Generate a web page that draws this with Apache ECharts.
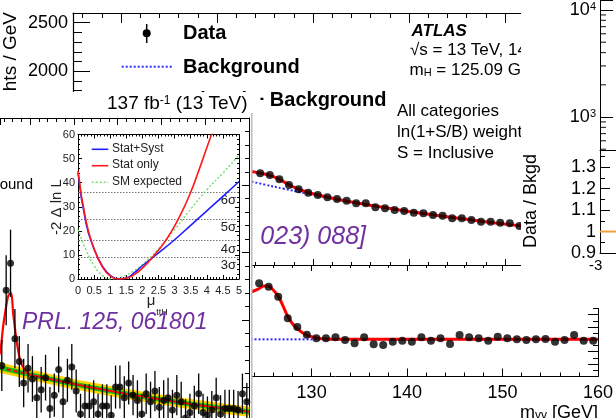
<!DOCTYPE html>
<html>
<head>
<meta charset="utf-8">
<script src="https://cdn.jsdelivr.net/npm/echarts@6.0.0/dist/echarts.min.js"></script>
<style>
html,body{margin:0;padding:0;background:#fff;}
#chart{width:616px;height:418px;}
</style>
</head>
<body>
<div id="chart"></div>
<script>
// ================= DATA =================
// ATLAS diphoton, ln(1+S/B) weighted, all categories
const atlasMass = [124.5,125.5,126.5,127.5,128.5,129.5,130.5,131.5,132.5,133.5,134.5,135.5,136.5,137.5,138.5,139.5,140.5,141.5,142.5,143.5,144.5,145.5,146.5,147.5,148.5,149.5,150.5,151.5];
const atlasWeighted = [946,929,884,826,781,746,722,699,681,664,637,637,595,585,568,557,540,534,516,509,482,482,464,447,447,437,430,402];
const atlasBkgMass = [123.6,125,127,129,131,134,137,140,143,146,149,152,155,158,160];
const atlasBkg = [861,829,786,744,705,651,600,553,510,471,434,400,369,340,322];
const atlasFitMass = [123.6,124.5,125.5,126.5,127.5,128.5,129.5,130.5,131.5,134,137,140,143,146,149,152,155,158,160];
const atlasFit = [965,948,926,884,828,782,748,722,700,651,600,553,510,471,434,400,369,340,322];
const atlasResidMass = [124.5,125.5,126.5,127.5,128.5,129.5,130.5,131.5,132.5,133.5,134.5,135.5,136.5,137.5,138.5,139.5,140.5,141.5,142.5,143.5,144.5,145.5,146.5,147.5,148.5,149.5,150.5,151.5,152.5,153.5,154.5,155.5,156.5,157.5,158.5,159.5];
const atlasResid = [226,212,172,85,50,19,4,4,8,-3,-16,8,-20,-23,-10,-6,-10,8,-6,4,-19,17,8,4,-6,10,4,0,-3,0,1,-10,-3,17,-6,-6];
const atlasSigMass = [123.6,124.5,125,125.5,126,126.5,127,127.5,128,128.5,129,129.5,130.5,131.5,133,160];
const atlasSig = [190,205,215,214,198,174,135,92,63,43,28,17,6,1.5,0,0];
const atlasZeroMass = [123.6,160];
const atlasZero = [0,0];

// CMS ttH diphoton
const cmsMass = [123.5,124.5,125.5,126.5,127.5,128.5,129.5,130.5,131.5,132.5,133.5,134.5,135.5,136.5,137.5,138.5,139.5,140.5,141.5,142.5,143.5,144.5,145.5,146.5,147.5,148.5,149.5,150.5,151.5,152.5,153.5,154.5,155.5,156.5,157.5,158.5,159.5,160.5,161.5,162.5,163.5,164.5,165.5,166.5,167.5,168.5,169.5,170.5,171.5,172.5,173.5,174.5,175.5,176.5,177.5,178.5,179.5];
const cmsYield = [6.6,12.2,14.2,8.6,6.9,5.3,6.4,5.6,4.2,4.8,5.7,3.4,4.4,6.3,3.9,5.5,6.5,4.7,3.0,3.6,3.6,3.9,3.0,3.6,3.6,2.9,5.0,5.0,4.2,5.3,4.4,4.0,3.0,4.5,3.9,4.7,3.5,4.0,4.2,3.3,4.4,3.9,2.7,3.1,3.6,4.5,3.1,2.9,3.3,4.2,3.0,3.4,3.4,3.4,3.3,4.5,3.9];
const cmsErr = [1.9,2.6,2.5,2.2,1.9,1.8,1.8,1.7,1.6,1.7,1.7,1.6,1.6,1.7,1.6,1.6,1.7,1.6,1.5,1.6,1.6,1.6,1.5,1.6,1.6,1.5,1.6,1.6,1.6,1.6,1.5,1.5,1.5,1.5,1.5,1.5,1.5,1.5,1.5,1.5,1.5,1.5,1.4,1.4,1.5,1.5,1.4,1.4,1.4,1.5,1.4,1.4,1.4,1.4,1.4,1.5,1.4];
const cmsBkgMass = [120,125,130,135,140,145,150,155,160,165,170,175,180];
const cmsBkg = [6.70,6.30,5.92,5.56,5.22,4.91,4.61,4.33,4.07,3.82,3.59,3.37,3.17];
const cmsFitMass = [122,123.1,123.8,124.6,125,125.6,126.1,126.9,127.7,128.5,129.5,130];
const cmsFit = [6.8,7.6,9.5,11.2,11.8,12.0,10.5,8.4,7.0,6.4,6.0,5.92];

// inset: -2 Delta ln L vs mu_ttH
const statSystMu = [0,0.25,0.5,0.75,1,1.25,1.5,1.75,2,2.5,3,3.5,4,4.5,5];
const statSystNll = [44,23,12.5,5.5,1.5,0,0.4,2.6,5.5,10.8,16.3,22.3,28.3,34.3,40.5];
const statOnlyMu = [0,0.25,0.5,0.75,1,1.3,1.5,1.75,2,2.25,2.5,2.75,3,3.25,3.5,3.75,4,4.25];
const statOnlyNll = [45,24,12.5,5.3,1.3,0,0.3,1.8,4.5,8,12,16.5,22,28.5,36,45,54.5,64];
const smExpMu = [0,0.25,0.5,0.75,1,1.25,1.5,1.75,2,2.5,3,3.5,4,4.5,5];
const smExpNll = [20.5,12,5.5,1.5,0,0.4,1.6,3.5,6,12.5,20.5,29,37,44,51.5];
const sigmaLevels = [9,16,25,36];
const sigmaLabels = ['3σ','4σ','5σ','6σ'];

// far right: log scale minor ticks and ratio reference
const logMinorTicks = [500,600,700,800,900,2000,3000,4000,5000,6000,7000,8000,9000];
const ratioRefX = [0,1];
const ratioRef = [1,1];

// ================= CHART =================
const F = '"Liberation Sans", Arial, Helvetica, sans-serif';
const zip = (a,b) => a.map((v,i)=>[v,b[i]]);
const line = (w) => ({show:true, onZero:false, lineStyle:{color:'#000', width:w||1}});
const noSplit = {show:false};

const chart = echarts.init(document.getElementById('chart'), null, {renderer:'canvas'});

function xAx(o){
  return Object.assign({type:'value', splitLine:noSplit, axisLine:line(1), axisLabel:{show:false}}, o);
}

const option = {
  animation:false,
  grid:[
    {left:73, top:13, width:528, height:252},
    {left:73, top:265, width:528, height:111.5},
    {left:0, top:118, width:249, height:300},
    {left:78, top:134.5, width:161, height:144.5},
    {left:600, top:0, width:16, height:150},
    {left:600, top:150, width:16, height:103, show:true, backgroundColor:'#fff', borderWidth:0, z:32}
  ],
  xAxis:[
    xAx({gridIndex:0, position:'top', min:105, max:160, splitNumber:5, z:1,
      axisTick:{inside:true, length:10, lineStyle:{color:'#000'}},
      minorTick:{show:true, splitNumber:5, length:5, lineStyle:{color:'#000'}}}),
    xAx({gridIndex:0, position:'bottom', min:105, max:160, splitNumber:5, z:1,
      axisTick:{inside:true, length:6, lineStyle:{color:'#000'}},
      minorTick:{show:true, splitNumber:5, length:3, lineStyle:{color:'#000'}}}),
    xAx({gridIndex:1, position:'bottom', min:105, max:160, splitNumber:5, z:1,
      axisTick:{inside:true, length:8, lineStyle:{color:'#000'}},
      minorTick:{show:true, splitNumber:5, length:4, lineStyle:{color:'#000'}},
      axisLabel:{show:true, fontFamily:F, fontSize:18, color:'#000', margin:8}}),
    xAx({gridIndex:1, position:'top', min:105, max:160, splitNumber:5, z:1,
      axisTick:{inside:true, length:6, lineStyle:{color:'#000'}},
      minorTick:{show:true, splitNumber:5, length:3, lineStyle:{color:'#000'}}}),
    xAx({gridIndex:2, position:'top', min:123.09, max:180, splitNumber:6, z:11,
      axisTick:{inside:true, length:7, lineStyle:{color:'#000'}},
      minorTick:{show:true, splitNumber:5, length:4, lineStyle:{color:'#000'}}}),
    xAx({gridIndex:3, position:'bottom', min:0, max:5, interval:0.5, z:21,
      axisTick:{inside:true, length:4, lineStyle:{color:'#000'}},
      minorTick:{show:true, splitNumber:5, length:2, lineStyle:{color:'#000'}},
      axisLabel:{show:true, fontFamily:F, fontSize:11, color:'#222', margin:6}}),
    xAx({gridIndex:3, position:'top', min:0, max:5, interval:0.5, z:21,
      axisTick:{inside:true, length:4, lineStyle:{color:'#000'}},
      minorTick:{show:true, splitNumber:5, length:2, lineStyle:{color:'#000'}}}),
    xAx({gridIndex:4, show:false, min:0, max:1}),
    xAx({gridIndex:5, position:'top', min:0, max:1, z:33, axisTick:{show:false}}),
    xAx({gridIndex:5, position:'bottom', min:0, max:1, z:33, axisTick:{show:false}})
  ],
  yAxis:[
    {type:'value', gridIndex:0, position:'left', min:0, max:2600, interval:500, z:1,
      splitLine:noSplit, axisLine:line(1.2),
      axisTick:{inside:true, length:17, lineStyle:{color:'#000'}},
      minorTick:{show:true, splitNumber:5, length:9, lineStyle:{color:'#000'}},
      axisLabel:{fontFamily:F, fontSize:18, color:'#000', margin:5, formatter: v => String(v)}},
    {type:'value', gridIndex:1, position:'right', min:-150, max:300, interval:50, z:1,
      splitLine:noSplit, axisLine:line(1),
      axisTick:{inside:true, length:10, lineStyle:{color:'#000'}},
      minorTick:{show:true, splitNumber:2, length:5, lineStyle:{color:'#000'}},
      axisLabel:{show:false}},
    {type:'value', gridIndex:2, position:'right', min:2.7, max:25, splitNumber:5, z:11,
      splitLine:noSplit, axisLine:line(1),
      axisTick:{inside:true, length:7, lineStyle:{color:'#000'}},
      minorTick:{show:true, splitNumber:5, length:4, lineStyle:{color:'#000'}},
      axisLabel:{show:false}},
    {type:'value', gridIndex:3, position:'left', min:0, max:60, interval:10, z:21,
      splitLine:noSplit, axisLine:line(1),
      axisTick:{inside:true, length:4, lineStyle:{color:'#000'}},
      minorTick:{show:true, splitNumber:5, length:2, lineStyle:{color:'#000'}},
      axisLabel:{fontFamily:F, fontSize:11, color:'#222', margin:3}},
    {type:'value', gridIndex:3, position:'right', min:0, max:60, interval:10, z:21,
      splitLine:noSplit, axisLine:line(1),
      axisTick:{inside:true, length:4, lineStyle:{color:'#000'}},
      minorTick:{show:true, splitNumber:5, length:2, lineStyle:{color:'#000'}},
      axisLabel:{show:false}},
    {type:'log', logBase:10, gridIndex:4, position:'left', min:491.6, max:12400, z:31,
      splitLine:noSplit, axisLine:line(1),
      axisTick:{inside:true, length:13, lineStyle:{color:'#000'}},
      axisLabel:{fontFamily:F, fontSize:18, color:'#000', margin:4,
        formatter: v => { const l = Math.log10(v); return Math.abs(l - Math.round(l)) < 1e-6 ? '10{s|' + Math.round(l) + '}' : ''; },
        rich:{s:{fontFamily:F, fontSize:11, color:'#000', verticalAlign:'top'}}}},
    {type:'value', gridIndex:5, position:'left', min:0.9, max:1.38, interval:0.1, z:33,
      splitLine:noSplit, axisLine:line(1),
      axisTick:{inside:true, length:10, lineStyle:{color:'#000'}},
      minorTick:{show:true, splitNumber:2, length:5, lineStyle:{color:'#000'}},
      axisLabel:{fontFamily:F, fontSize:18, color:'#000', margin:4}}
  ],
  series:[
    // ---- ATLAS upper ----
    {type:'line', xAxisIndex:1, yAxisIndex:0, z:2, data:zip(atlasBkgMass, atlasBkg), smooth:true, symbol:'none',
      lineStyle:{color:'#2b2bff', width:2, type:[2,2]}},
    {type:'line', xAxisIndex:1, yAxisIndex:0, z:3, data:zip(atlasFitMass, atlasFit), smooth:0.4, symbol:'none',
      lineStyle:{color:'#ff0000', width:3}},
    {type:'scatter', xAxisIndex:1, yAxisIndex:0, z:4, data:zip(atlasMass, atlasWeighted), symbolSize:8,
      itemStyle:{color:'#000'}},
    // ---- ATLAS lower ----
    {type:'line', xAxisIndex:2, yAxisIndex:1, z:2, data:zip(atlasZeroMass, atlasZero), symbol:'none',
      lineStyle:{color:'#2b2bff', width:2, type:[2,2]}},
    {type:'line', xAxisIndex:2, yAxisIndex:1, z:3, data:zip(atlasSigMass, atlasSig), smooth:0.4, symbol:'none',
      lineStyle:{color:'#ff0000', width:3}},
    {type:'scatter', xAxisIndex:2, yAxisIndex:1, z:4, data:zip(atlasResidMass, atlasResid), symbolSize:8,
      itemStyle:{color:'#000'}},
    // ---- CMS ----
    {type:'line', xAxisIndex:4, yAxisIndex:2, z:12, data:zip(cmsBkgMass, cmsBkg), smooth:true, symbol:'none',
      lineStyle:{color:'#ffd200', width:10}},
    {type:'line', xAxisIndex:4, yAxisIndex:2, z:12, data:zip(cmsBkgMass, cmsBkg), smooth:true, symbol:'none',
      lineStyle:{color:'#19c019', width:5}},
    {type:'line', xAxisIndex:4, yAxisIndex:2, z:13, data:zip(cmsBkgMass, cmsBkg).slice(0,3), smooth:true, symbol:'none',
      lineStyle:{color:'#ff0000', width:2, type:[4,3]}},
    {type:'line', xAxisIndex:4, yAxisIndex:2, z:13, data:zip(cmsBkgMass, cmsBkg).slice(2), smooth:true, symbol:'none',
      lineStyle:{color:'#ff0000', width:2}},
    {type:'line', xAxisIndex:4, yAxisIndex:2, z:13, data:zip(cmsFitMass, cmsFit), smooth:0.35, symbol:'none',
      lineStyle:{color:'#ff0000', width:2.2}},
    {type:'custom', xAxisIndex:4, yAxisIndex:2, z:14, clip:false,
      data: cmsMass.map((m,i)=>[m, cmsYield[i], cmsErr[i]]),
      renderItem:(params, api)=>{
        const x = api.value(0), y = api.value(1), e = api.value(2);
        const a = api.coord([x, y+e]), b = api.coord([x, y-e]);
        return {type:'line', shape:{x1:a[0], y1:a[1], x2:b[0], y2:b[1]}, style:{stroke:'#000', lineWidth:1.3}};
      }},
    {type:'scatter', xAxisIndex:4, yAxisIndex:2, z:14, clip:false, data:zip(cmsMass, cmsYield), symbolSize:7,
      itemStyle:{color:'#000'}},
    // ---- inset ----
    {type:'line', xAxisIndex:5, yAxisIndex:3, z:22, data:zip(smExpMu, smExpNll), smooth:true, symbol:'none',
      lineStyle:{color:'#7cdc7c', width:1.5, type:[2,2]},
      markLine:{z:22, silent:true, symbol:'none', animation:false,
        lineStyle:{color:'#777', width:1, type:[1.5,1.5]},
        label:{show:true, position:'insideEndBottom', distance:[3,2], fontFamily:F, fontSize:13, color:'#222',
          formatter: p => sigmaLabels[sigmaLevels.indexOf(p.value)]},
        data: sigmaLevels.map(v=>({yAxis:v}))}},
    {type:'line', xAxisIndex:5, yAxisIndex:3, z:23, data:zip(statSystMu, statSystNll), smooth:true, symbol:'none',
      lineStyle:{color:'#2020ff', width:1.6}},
    {type:'line', xAxisIndex:5, yAxisIndex:3, z:23, data:zip(statOnlyMu, statOnlyNll), smooth:true, symbol:'none',
      lineStyle:{color:'#ff1a1a', width:1.6}},
    // ---- far right ----
    {type:'scatter', xAxisIndex:7, yAxisIndex:5, z:31, data:logMinorTicks.map(v=>[0,v]), symbol:'rect',
      symbolSize:[6,1.2], symbolOffset:[3,0], itemStyle:{color:'#000'}},
    {type:'line', xAxisIndex:8, yAxisIndex:6, z:34, data:zip(ratioRefX, ratioRef), symbol:'none',
      lineStyle:{color:'#f0a040', width:2}}
  ],
  graphic:[
    // ATLAS texts
    {type:'text', x:11, y:12, rotation:Math.PI/2, z:3,
      style:{text:'Sum of Weights / GeV', fontFamily:F, fontSize:19, fill:'#000', align:'right', verticalAlign:'middle'}},
    {type:'line', z:3, shape:{x1:146.7, y1:24, x2:146.7, y2:43}, style:{stroke:'#000', lineWidth:1.5}},
    {type:'circle', z:3, shape:{cx:146.7, cy:33.3, r:4}, style:{fill:'#000'}},
    {type:'text', x:183, y:33.5, z:3, style:{text:'Data', fontFamily:F, fontSize:20, fontWeight:'bold', fill:'#000', align:'left', verticalAlign:'middle'}},
    {type:'line', z:3, shape:{x1:121.7, y1:66.7, x2:171.7, y2:66.7}, style:{stroke:'#2b2bff', lineWidth:2, lineDash:[2,2]}},
    {type:'text', x:183, y:67, z:3, style:{text:'Background', fontFamily:F, fontSize:20, fontWeight:'bold', fill:'#000', align:'left', verticalAlign:'middle'}},
    {type:'text', x:386.5, y:100.5, z:3, style:{text:'Signal + Background', fontFamily:F, fontSize:20, fontWeight:'bold', fill:'#000', align:'right', verticalAlign:'middle'}},
    {type:'text', x:411.5, y:31, z:3, style:{text:'ATLAS', fontFamily:F, fontSize:17, fontWeight:'bold', fontStyle:'italic', fill:'#000', align:'left', verticalAlign:'middle'}},
    {type:'text', x:410, y:50, z:3, style:{text:'√s = 13 TeV, 140 fb{s|-1}', fontFamily:F, fontSize:17, fill:'#000', align:'left', verticalAlign:'middle',
      rich:{s:{fontFamily:F, fontSize:11, fill:'#000', verticalAlign:'top'}}}},
    {type:'text', x:409.5, y:70, z:3, style:{text:'m{b|H} = 125.09 GeV', fontFamily:F, fontSize:17, fill:'#000', align:'left', verticalAlign:'middle',
      rich:{b:{fontFamily:F, fontSize:11, fill:'#000', verticalAlign:'bottom'}}}},
    {type:'text', x:397, y:111, z:3, style:{text:'All categories', fontFamily:F, fontSize:17, fill:'#000', align:'left', verticalAlign:'middle'}},
    {type:'text', x:397, y:132, z:3, style:{text:'ln(1+S/B) weighted', fontFamily:F, fontSize:17, fill:'#000', align:'left', verticalAlign:'middle'}},
    {type:'text', x:397, y:153, z:3, style:{text:'S = Inclusive', fontFamily:F, fontSize:17, fill:'#000', align:'left', verticalAlign:'middle'}},
    {type:'text', x:520, y:413, z:3, style:{text:'m{b|γγ} [GeV]', fontFamily:F, fontSize:18, fill:'#000', align:'left', verticalAlign:'middle',
      rich:{b:{fontFamily:F, fontSize:12, fill:'#000', verticalAlign:'bottom'}}}},
    {type:'text', x:366, y:237, z:5, style:{text:'[JHEP 07 (2023) 088]', fontFamily:F, fontSize:25, fontStyle:'italic', fill:'#7030a0', align:'right', verticalAlign:'middle'}},
    // CMS panel
    {type:'rect', z:10, shape:{x:0, y:93, width:251.5, height:325}, style:{fill:'#fff'}},
    {type:'rect', z:10, shape:{x:0, y:92, width:260.5, height:21}, style:{fill:'#fff'}},
    {type:'rect', z:10, shape:{x:251, y:222, width:9.5, height:30}, style:{fill:'#fff'}},
    {type:'text', x:107, y:104, z:15, style:{text:'137 fb{s|-1} (13 TeV)', fontFamily:F, fontSize:19, fill:'#000', align:'left', verticalAlign:'middle',
      rich:{s:{fontFamily:F, fontSize:12, fill:'#000', verticalAlign:'top'}}}},
    {type:'text', x:33, y:185, z:15, style:{text:'Background', fontFamily:F, fontSize:15, fill:'#000', align:'right', verticalAlign:'middle'}},
    {type:'line', z:15, shape:{x1:251.8, y1:113, x2:251.8, y2:418}, style:{stroke:'#bdbdbd', lineWidth:1.5}},
    // inset
    {type:'rect', z:20, shape:{x:78, y:134.5, width:161, height:144.5}, style:{fill:'#fff'}},
    {type:'text', x:57, y:207, rotation:Math.PI/2, z:24, style:{text:'-2 Δ ln L', fontFamily:F, fontSize:15, fill:'#222', align:'center', verticalAlign:'middle'}},
    {type:'text', x:151, y:301, z:24, style:{text:'μ', fontFamily:F, fontSize:15, fill:'#222', align:'center', verticalAlign:'middle'}},
    {type:'text', x:162, y:313, z:24, style:{text:'ttH', fontFamily:F, fontSize:9, fill:'#222', align:'center', verticalAlign:'middle'}},
    {type:'line', z:24, shape:{x1:91.7, y1:149.3, x2:108.3, y2:149.3}, style:{stroke:'#2020ff', lineWidth:1.6}},
    {type:'text', x:112, y:148.5, z:24, style:{text:'Stat+Syst', fontFamily:F, fontSize:12, fill:'#222', align:'left', verticalAlign:'middle'}},
    {type:'line', z:24, shape:{x1:91.7, y1:165.7, x2:108.3, y2:165.7}, style:{stroke:'#ff1a1a', lineWidth:1.6}},
    {type:'text', x:112, y:165, z:24, style:{text:'Stat only', fontFamily:F, fontSize:12, fill:'#222', align:'left', verticalAlign:'middle'}},
    {type:'line', z:24, shape:{x1:91.7, y1:182.3, x2:108.3, y2:182.3}, style:{stroke:'#7cdc7c', lineWidth:1.5, lineDash:[2,2]}},
    {type:'text', x:112, y:181.5, z:24, style:{text:'SM expected', fontFamily:F, fontSize:12, fill:'#222', align:'left', verticalAlign:'middle'}},
    // far right panel
    {type:'rect', z:30, shape:{x:521, y:0, width:95, height:308}, style:{fill:'#fff'}},
    {type:'text', x:531, y:201, rotation:Math.PI/2, z:34, style:{text:'Data / Bkgd', fontFamily:F, fontSize:18, fill:'#000', align:'center', verticalAlign:'middle'}},
    {type:'text', x:589, y:266, z:34, style:{text:'-3', fontFamily:F, fontSize:15, fill:'#000', align:'left', verticalAlign:'middle'}},
    // overlay reference
    {type:'text', x:22, y:323, z:50, style:{text:'PRL. 125, 061801', fontFamily:F, fontSize:23, fontStyle:'italic', fill:'#7030a0', align:'left', verticalAlign:'middle'}}
  ]
};
chart.setOption(option);
</script>
</body>
</html>
